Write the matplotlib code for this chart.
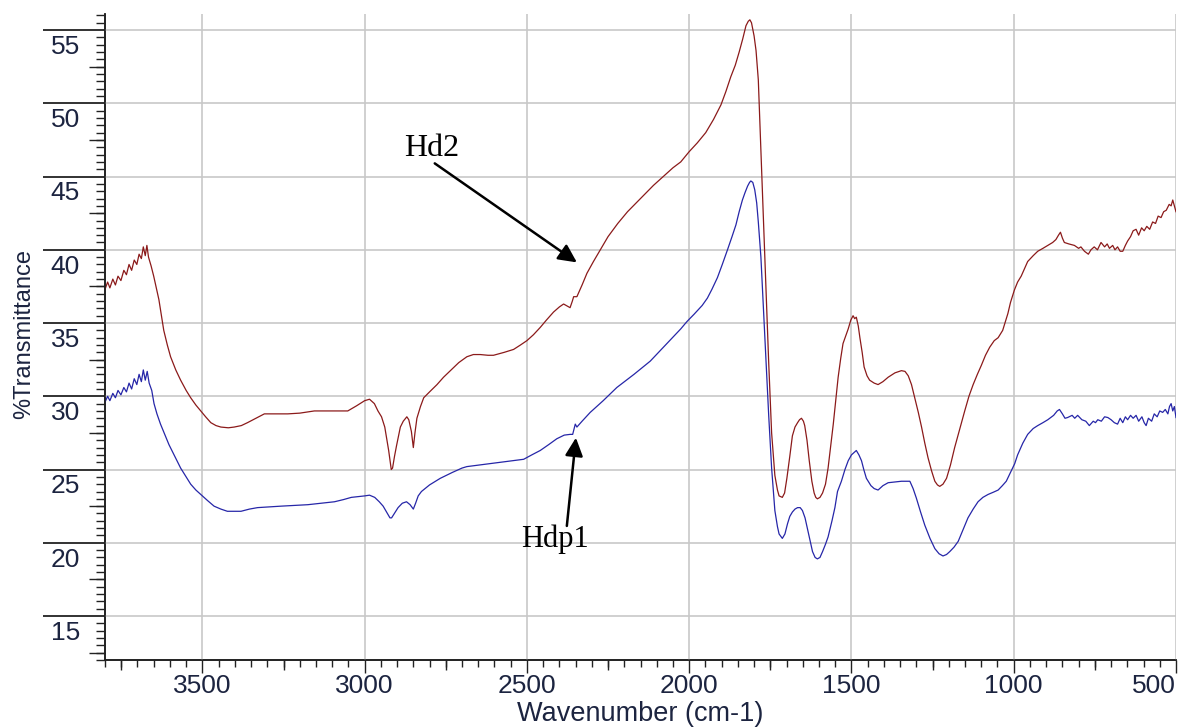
import matplotlib
matplotlib.use("Agg")
import matplotlib.pyplot as plt
from matplotlib.ticker import MultipleLocator, FixedLocator
from matplotlib.transforms import ScaledTranslation

# Hd2 spectrum (upper, dark red)
wn_hd2 = [3800, 3792, 3785, 3776, 3768, 3760, 3751, 3742, 3734, 3726, 3718, 3710, 3702, 3695,
          3688, 3682, 3676, 3671, 3666, 3658, 3650, 3642, 3634, 3626, 3619, 3608, 3598, 3582,
          3567, 3550, 3536, 3520, 3505, 3490, 3474, 3458, 3443, 3420, 3402, 3380, 3361, 3335,
          3309, 3270, 3237, 3200, 3155, 3120, 3082, 3052, 3025, 3000, 2985, 2970, 2959, 2948,
          2938, 2926, 2918, 2914, 2908, 2902, 2890, 2881, 2870, 2864, 2856, 2850, 2845, 2839,
          2828, 2818, 2800, 2777, 2757, 2736, 2710, 2685, 2665, 2644, 2620, 2603, 2570, 2541,
          2520, 2500, 2480, 2459, 2440, 2418, 2400, 2387, 2375, 2367, 2360, 2356, 2346, 2330,
          2315, 2295, 2274, 2250, 2220, 2190, 2150, 2110, 2080, 2050, 2026, 2000, 1975, 1949,
          1925, 1902, 1887, 1872, 1858, 1846, 1835, 1825, 1818, 1813, 1808, 1800, 1794, 1787,
          1779, 1771, 1763, 1755, 1746, 1736, 1728, 1723, 1713, 1706, 1699, 1690, 1682, 1674,
          1666, 1660, 1654, 1648, 1644, 1637, 1630, 1622, 1615, 1610, 1605, 1597, 1589, 1580,
          1572, 1564, 1556, 1548, 1541, 1533, 1526, 1518, 1510, 1502, 1495, 1490, 1485, 1479,
          1474, 1467, 1461, 1452, 1444, 1430, 1418, 1403, 1387, 1366, 1346, 1335, 1325, 1315,
          1305, 1294, 1284, 1274, 1264, 1253, 1243, 1235, 1228, 1218, 1207, 1195, 1182, 1166,
          1151, 1138, 1125, 1112, 1100, 1087, 1074, 1060, 1048, 1034, 1023, 1018, 1010, 998,
          988, 977, 967, 957, 940, 926, 910, 895, 880, 870, 862, 856, 850, 844, 830, 813, 800,
          793, 782, 770, 762, 752, 742, 731, 720, 712, 705, 695, 688, 680, 672, 664, 656, 649,
          640, 632, 623, 615, 606, 598, 590, 581, 572, 563, 555, 546, 538, 530, 521, 515, 510,
          505, 500]
t_hd2 = [37.3, 37.8, 37.4, 38.0, 37.6, 38.2, 37.9, 38.6, 38.3, 39.0, 38.6, 39.3, 39.0, 39.7,
         39.4, 40.2, 39.6, 40.3, 39.5, 38.9, 38.2, 37.4, 36.6, 35.5, 34.5, 33.5, 32.7, 31.8,
         31.1, 30.4, 29.9, 29.4, 29.0, 28.6, 28.2, 28.0, 27.9, 27.85, 27.9, 28.0, 28.2, 28.5,
         28.8, 28.8, 28.8, 28.85, 29.0, 29.0, 29.0, 29.0, 29.35, 29.7, 29.8, 29.5, 29.0, 28.6,
         27.9, 26.3, 25.0, 25.1, 25.9, 26.6, 27.9, 28.3, 28.6, 28.4, 27.6, 26.5, 27.5, 28.5,
         29.3, 29.9, 30.3, 30.8, 31.3, 31.75, 32.3, 32.7, 32.85, 32.85, 32.8, 32.8, 33.0, 33.2,
         33.5, 33.8, 34.2, 34.7, 35.2, 35.75, 36.1, 36.3, 36.15, 36.05, 36.5, 36.8, 36.8, 37.6,
         38.4, 39.2, 40.0, 40.9, 41.8, 42.6, 43.5, 44.4, 45.0, 45.6, 46.0, 46.7, 47.3, 48.0,
         48.9, 49.9, 50.8, 51.8, 52.6, 53.5, 54.4, 55.3, 55.6, 55.7, 55.5, 54.6, 53.6, 51.6,
         46.8, 42.0, 37.1, 32.3, 27.5, 24.6, 23.6, 23.2, 23.1, 23.4, 24.4, 25.9, 27.3, 27.9,
         28.2, 28.4, 28.5, 28.3, 28.0, 27.0, 25.6, 24.2, 23.4, 23.1, 23.0, 23.1, 23.4, 24.0,
         25.1, 26.6, 28.1, 29.8, 31.3, 32.6, 33.6, 34.1, 34.6, 35.2, 35.5, 35.3, 35.4, 34.8,
         34.0, 33.0, 32.0, 31.4, 31.1, 30.9, 30.8, 31.0, 31.3, 31.6, 31.75, 31.7, 31.4, 30.8,
         29.9, 28.9, 27.9, 26.8, 25.8, 24.9, 24.2, 23.95, 23.85, 24.0, 24.4, 25.3, 26.5, 27.8,
         29.0, 30.0, 30.8, 31.5, 32.1, 32.8, 33.35, 33.8, 34.0, 34.5, 35.3, 35.65, 36.4, 37.25,
         37.8, 38.2, 38.7, 39.2, 39.6, 39.9, 40.1, 40.3, 40.5, 40.7, 41.0, 41.2, 40.8, 40.5,
         40.4, 40.3, 40.1, 40.2, 39.9, 39.7, 40.0, 40.2, 40.0, 40.5, 40.2, 40.4, 40.1, 40.3,
         40.0, 40.2, 39.9, 39.9, 40.3, 40.6, 40.9, 41.3, 41.4, 41.0, 41.5, 41.3, 41.6, 41.4,
         41.9, 41.8, 42.3, 42.2, 42.6, 42.7, 43.1, 43.0, 43.4, 43.0, 42.6]

# Hdp1 spectrum (lower, blue)
wn_hdp1 = [3800, 3792, 3785, 3776, 3768, 3760, 3751, 3742, 3734, 3726, 3718, 3710, 3702, 3695,
           3688, 3682, 3676, 3670, 3664, 3656, 3649, 3640, 3629, 3616, 3603, 3585, 3567, 3550,
           3536, 3520, 3505, 3485, 3464, 3443, 3423, 3400, 3381, 3355, 3330, 3295, 3258, 3215,
           3175, 3135, 3093, 3065, 3041, 3020, 3000, 2985, 2969, 2955, 2943, 2930, 2922, 2917,
           2910, 2897, 2884, 2871, 2860, 2850, 2843, 2835, 2825, 2800, 2767, 2730, 2700, 2685,
           2650, 2633, 2582, 2545, 2510, 2485, 2459, 2433, 2408, 2385, 2367, 2359, 2351, 2346,
           2330, 2305, 2265, 2223, 2170, 2120, 2060, 2026, 2007, 1985, 1960, 1944, 1930, 1913,
           1898, 1882, 1868, 1856, 1846, 1836, 1828, 1820, 1814, 1810, 1804, 1798, 1792, 1787,
           1779, 1771, 1763, 1755, 1746, 1736, 1728, 1723, 1713, 1705, 1697, 1690, 1682, 1674,
           1666, 1658, 1651, 1643, 1636, 1628, 1620, 1612, 1605, 1597, 1589, 1580, 1572, 1560,
           1551, 1543, 1531, 1520, 1510, 1500, 1495, 1485, 1477, 1469, 1462, 1454, 1440, 1430,
           1418, 1403, 1387, 1366, 1346, 1330, 1320, 1310, 1300, 1287, 1274, 1258, 1243, 1230,
           1218, 1207, 1197, 1184, 1171, 1156, 1141, 1125, 1110, 1095, 1079, 1063, 1048, 1035,
           1023, 1010, 997, 988, 972, 957, 940, 926, 910, 895, 877, 866, 859, 850, 842, 834,
           820, 812, 803, 790, 778, 767, 755, 748, 741, 730, 720, 710, 700, 690, 680, 672, 664,
           656, 649, 640, 632, 623, 615, 605, 598, 592, 585, 575, 567, 558, 550, 541, 533, 525,
           520, 515, 510, 505, 500]
t_hdp1 = [29.6, 30.0, 29.7, 30.2, 29.9, 30.4, 30.1, 30.6, 30.3, 30.9, 30.5, 31.2, 30.8, 31.5,
          31.0, 31.8, 31.1, 31.7, 30.9, 30.4, 29.5, 28.8, 28.1, 27.4, 26.7, 25.9, 25.1, 24.5,
          24.0, 23.6, 23.3, 22.9, 22.5, 22.3, 22.15, 22.15, 22.15, 22.3, 22.4, 22.45, 22.5, 22.55,
          22.6, 22.7, 22.8, 22.95, 23.1, 23.15, 23.2, 23.25, 23.1, 22.8, 22.5, 22.0, 21.7, 21.7,
          21.95, 22.4, 22.7, 22.8, 22.6, 22.3, 22.7, 23.2, 23.5, 23.95, 24.4, 24.8, 25.1, 25.2,
          25.3, 25.35, 25.5, 25.6, 25.7, 26.0, 26.3, 26.7, 27.1, 27.35, 27.4, 27.4, 28.1, 27.9,
          28.3, 28.9, 29.7, 30.6, 31.5, 32.4, 33.8, 34.6, 35.1, 35.6, 36.2, 36.7, 37.3, 38.1,
          39.0, 40.0, 40.9, 41.7, 42.6, 43.4, 43.9, 44.35, 44.6, 44.7, 44.6, 44.1, 43.2, 41.9,
          39.5, 35.9, 32.3, 28.7, 25.1, 22.2, 21.1, 20.6, 20.3, 20.6, 21.3, 21.8, 22.1, 22.3,
          22.4, 22.4, 22.2, 21.7, 21.0, 20.2, 19.4, 19.0, 18.9, 19.0, 19.4, 19.9, 20.4, 21.5,
          22.4, 23.5, 24.2, 25.0, 25.6, 26.0, 26.1, 26.3, 26.0, 25.6, 25.0, 24.4, 23.9, 23.7,
          23.6, 23.9, 24.1, 24.15, 24.2, 24.2, 24.2, 23.7, 23.05, 22.1, 21.2, 20.3, 19.6, 19.25,
          19.1, 19.2, 19.4, 19.7, 20.1, 20.9, 21.7, 22.3, 22.8, 23.1, 23.3, 23.45, 23.6, 23.9,
          24.2, 24.8, 25.4, 26.0, 26.8, 27.4, 27.8, 28.0, 28.2, 28.4, 28.7, 29.0, 29.1, 28.8,
          28.5, 28.55, 28.7, 28.5, 28.7, 28.4, 28.3, 28.0, 28.3, 28.2, 28.4, 28.3, 28.6, 28.55,
          28.4, 28.2, 28.1, 28.5, 28.2, 28.6, 28.4, 28.7, 28.5, 28.7, 28.3, 28.6, 28.2, 28.0,
          28.5, 28.3, 28.8, 28.6, 29.0, 28.9, 29.1, 28.8, 29.3, 29.5, 29.0, 29.3, 28.55]

x_medium = [3750, 3250, 2750, 2250, 1750, 1250, 750]
y_medium = [12.5, 17.5, 22.5, 27.5, 32.5, 37.5, 42.5, 47.5, 52.5]

text_color = "#1c2440"
plt.rcParams["font.family"] = ["Liberation Sans", "DejaVu Sans"]

fig = plt.figure(figsize=(11.8, 7.27), dpi=100)
ax = fig.add_axes([0.089, 0.0922, 0.9076, 0.8886])

ax.plot(wn_hd2, t_hd2, color="#8b1a1a", lw=0.9)
ax.plot(wn_hdp1, t_hdp1, color="#2626a8", lw=0.9)

ax.set_xlim(3800, 500)
ax.set_ylim(12, 56.1)

ax.xaxis.set_major_locator(MultipleLocator(500))
ax.xaxis.set_minor_locator(MultipleLocator(50))
ax.yaxis.set_major_locator(MultipleLocator(5))
ax.yaxis.set_minor_locator(MultipleLocator(0.5))

ax.grid(True, which="major", color="#c8c8c8", lw=1.2)
ax.set_axisbelow(True)

for side in ["top", "right"]:
    ax.spines[side].set_visible(False)
for side in ["left", "bottom"]:
    ax.spines[side].set_linewidth(1.1)
    ax.spines[side].set_color("#222222")

ax.tick_params(axis="x", which="major", length=9, width=1.0, pad=1,
               labelsize=19, labelcolor=text_color, color="#222222")
ax.tick_params(axis="x", which="minor", length=4.7, width=1.0, color="#222222")
ax.tick_params(axis="y", which="major", length=44.6, width=1.3, pad=-26.6,
               labelsize=19, labelcolor=text_color, color="#222222")
ax.tick_params(axis="y", which="minor", length=6.5, width=1.0, color="#222222")

# y labels sit just under their tick line
shift_down = ScaledTranslation(0, -3.5 / 72, fig.dpi_scale_trans)
for lab in ax.get_yticklabels():
    lab.set_verticalalignment("top")
    lab.set_transform(lab.get_transform() + shift_down)

# the 500 label is kept inside the figure
xlocs = list(ax.get_xticks())
ax.get_xticklabels()[xlocs.index(500)].set_horizontalalignment("right")

# medium-length ticks
sec_x = ax.secondary_xaxis("bottom")
sec_x.xaxis.set_major_locator(FixedLocator(x_medium))
sec_x.tick_params(length=7.5, width=1.0, labelbottom=False, color="#222222")
sec_x.spines["bottom"].set_linewidth(1.1)
sec_y = ax.secondary_yaxis("left")
sec_y.yaxis.set_major_locator(FixedLocator(y_medium))
sec_y.tick_params(length=11.3, width=1.0, labelleft=False, color="#222222")
sec_y.spines["left"].set_linewidth(1.1)

ax.set_xlabel("Wavenumber (cm-1)", fontsize=19.5, color=text_color)
ax.xaxis.set_label_coords(0.5, -0.064)
ax.set_ylabel("%Transmittance", fontsize=17, color=text_color)
ax.yaxis.set_label_coords(-0.0655, 0.505)

arrow = dict(arrowstyle="-|>,head_length=0.55,head_width=0.27", mutation_scale=20,
             lw=1.8, color="black", shrinkA=0, shrinkB=0)
ax.text(2793, 46.93, "Hd2", family="Liberation Serif", fontsize=23,
        ha="center", va="center")
ax.annotate("", xy=(2346, 39.14), xytext=(2784, 45.9), arrowprops=arrow)
ax.text(2414, 20.27, "Hdp1", family="Liberation Serif", fontsize=22,
        ha="center", va="center")
ax.annotate("", xy=(2349, 27.17), xytext=(2377, 21.15), arrowprops=arrow)

fig.savefig("out.png", dpi=100)
